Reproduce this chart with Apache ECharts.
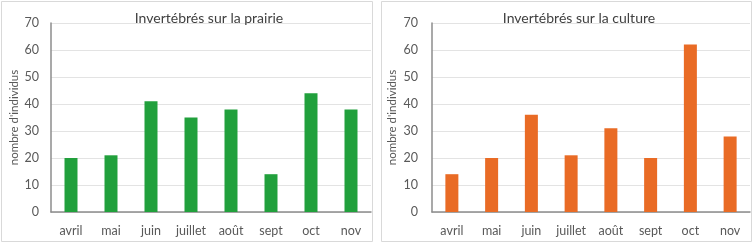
<!DOCTYPE html>
<html>
<head>
<meta charset="utf-8">
<script src="https://cdn.jsdelivr.net/npm/echarts@6/dist/echarts.min.js"></script>
<style>html,body{margin:0;padding:0;background:#fff;}#c{width:754px;height:246px;}</style>
</head>
<body>
<div id="c"></div>
<script>
var months = ['avril','mai','juin','juillet','août','sept','oct','nov'];
var prairie = [20, 21, 41, 35, 38, 14, 44, 38];
var culture = [14, 20, 36, 21, 31, 20, 62, 28];
var yTicks = {min: 0, max: 70, interval: 10};
var titles = ['Invertébrés sur la prairie', 'Invertébrés sur la culture'];
var yName = "nombre d'individus";

var FONT = 'Lato, "Open Sans", sans-serif';
var chart = echarts.init(document.getElementById('c'), null, {renderer: 'canvas'});

function yAxis(idx, margin, gap) {
  return {
    gridIndex: idx, type: 'value', min: yTicks.min, max: yTicks.max, interval: yTicks.interval,
    name: yName, nameLocation: 'middle', nameGap: gap,
    nameTextStyle: {color: '#595959', fontSize: 11.5, fontFamily: FONT},
    axisLine: {show: true, lineStyle: {color: '#8c8c8c', width: 1.5}},
    axisTick: {show: false},
    axisLabel: {color: '#595959', fontSize: 12.5, margin: margin, fontFamily: FONT},
    splitLine: {lineStyle: {color: '#e3e3e3', width: 1}}
  };
}
function xAxis(idx) {
  return {
    gridIndex: idx, type: 'category', data: months,
    axisLine: {show: true, lineStyle: {color: '#8c8c8c', width: 1.5}},
    axisTick: {show: false},
    axisLabel: {color: '#595959', fontSize: 12.5, margin: 12, fontFamily: FONT, interval: 0}
  };
}

chart.setOption({
  animation: false,
  backgroundColor: '#fff',
  title: [
    {text: titles[0], left: 204, top: 6, textAlign: 'center',
     textStyle: {fontSize: 14, fontWeight: 'normal', color: '#404040', fontFamily: FONT}},
    {text: titles[1], left: 574, top: 6, textAlign: 'center',
     textStyle: {fontSize: 14, fontWeight: 'normal', color: '#404040', fontFamily: FONT}}
  ],
  graphic: [
    {type: 'rect', shape: {x: 1.5, y: 1.5, width: 371, height: 240}, style: {fill: 'none', stroke: '#d9d9d9', lineWidth: 1}, z: -1},
    {type: 'rect', shape: {x: 381.5, y: 1.5, width: 370, height: 240}, style: {fill: 'none', stroke: '#d9d9d9', lineWidth: 1}, z: -1}
  ],
  grid: [
    {left: 51, top: 23, width: 320, height: 189},
    {left: 432, top: 23, width: 318, height: 189}
  ],
  xAxis: [xAxis(0), xAxis(1)],
  yAxis: [yAxis(0, 12, 31), yAxis(1, 14, 34)],
  series: [
    {type: 'bar', xAxisIndex: 0, yAxisIndex: 0, data: prairie, barWidth: 13, itemStyle: {color: '#21a03c'}},
    {type: 'bar', xAxisIndex: 1, yAxisIndex: 1, data: culture, barWidth: 13, itemStyle: {color: '#e96b25'}}
  ]
});
</script>
</body>
</html>
